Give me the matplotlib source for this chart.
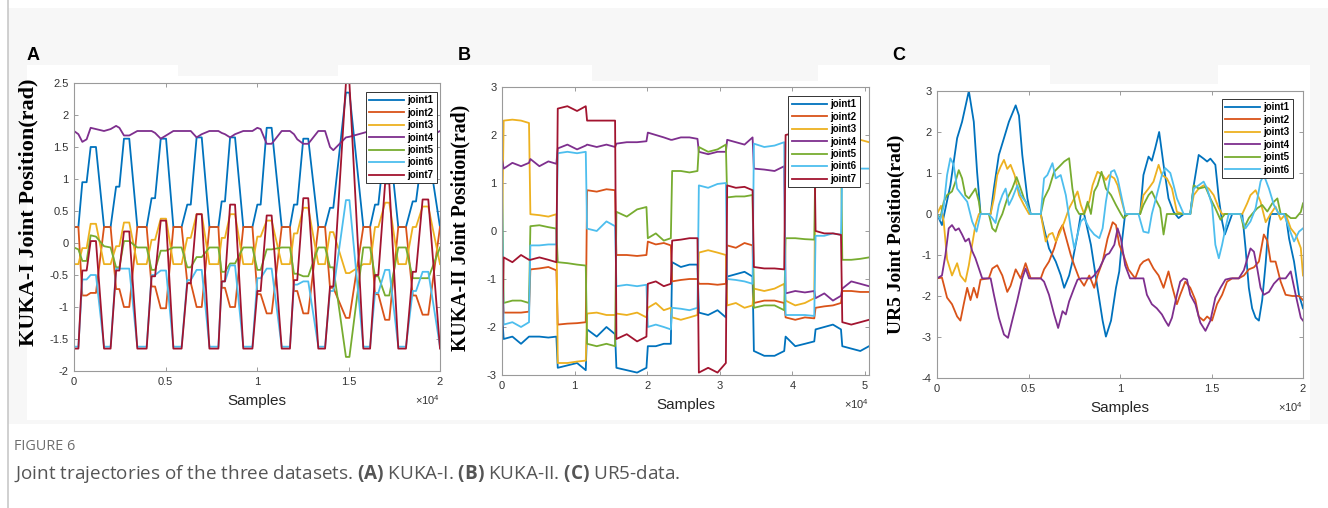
import matplotlib
matplotlib.use("Agg")
import matplotlib.pyplot as plt
from matplotlib.patches import Rectangle
from matplotlib.lines import Line2D
from matplotlib.ticker import FuncFormatter

# MATLAB default line colours, joint1..joint7
colors = ["#0072BD", "#D95319", "#EDB120", "#7E2F8E", "#77AC30", "#4DBEEE", "#A2142F"]

# ---------------- (A) KUKA-I : shared sample grid ----------------
a_samples = [0, 240, 455, 690, 910, 1200,
             1640, 2000, 2300, 2480, 2730, 3020,
             3460, 3970, 4240, 4430, 4740, 5030,
             5430, 5880, 6190, 6380, 6700, 6980,
             7400, 7890, 8070, 8250, 8530, 8800,
             9250, 9750, 10020, 10200, 10530, 10800,
             11350, 11800, 12020, 12200, 12530, 12800,
             13350, 13720, 13990, 14170, 14860, 15050,
             15810, 16180, 16450, 16630, 17000, 17230,
             17720, 18140, 18510, 18690, 19050, 19360,
             20000]
a_joint1 = [0.25, 0.25, 0.95, 0.95, 1.5, 1.5,
            0.25, 0.25, 0.88, 0.88, 1.63, 1.63,
            0.25, 0.25, 0.7, 0.7, 1.63, 1.63,
            0.25, 0.25, 0.6, 0.6, 1.65, 1.65,
            0.25, 0.25, 0.65, 0.65, 1.65, 1.65,
            0.25, 0.25, 0.6, 0.6, 1.8, 1.8,
            0.25, 0.25, 0.6, 0.6, 1.63, 1.63,
            0.25, 0.25, 0.55, 0.55, 2.35, 2.35,
            0.25, 0.25, 0.6, 0.6, 1.6, 1.6,
            0.25, 0.25, 0.65, 0.65, 1.45, 1.45,
            0.25]
a_joint2 = [0.25, 0.25, -0.82, -0.82, -0.78, -0.78,
            0.25, 0.25, -0.72, -0.72, -1.0, -1.0,
            0.25, 0.25, -0.68, -0.68, -1.02, -1.02,
            0.25, 0.25, -0.62, -0.62, -1.0, -1.0,
            0.25, 0.25, -0.7, -0.7, -1.0, -1.0,
            0.25, 0.25, -0.8, -0.8, -1.1, -1.1,
            0.25, 0.25, -0.75, -0.75, -1.1, -1.1,
            0.25, 0.25, -0.7, -0.7, -1.17, -1.17,
            0.25, 0.25, -0.8, -0.8, -1.2, -1.2,
            0.25, 0.25, -0.82, -0.82, -1.12, -1.12,
            0.25]
a_joint3 = [-0.33, -0.33, -0.08, -0.08, 0.3, 0.3,
            -0.33, -0.33, -0.05, -0.05, 0.32, 0.32,
            -0.33, -0.33, 0.05, 0.05, 0.38, 0.38,
            -0.33, -0.33, 0.08, 0.08, 0.45, 0.45,
            -0.33, -0.33, 0.08, 0.08, 0.45, 0.45,
            -0.33, -0.33, 0.1, 0.1, 0.35, 0.35,
            -0.33, -0.33, 0.15, 0.15, 0.55, 0.55,
            -0.33, -0.33, 0.17, 0.17, -0.47, -0.47,
            -0.33, -0.33, 0.25, 0.25, 0.63, 0.63,
            -0.33, -0.33, 0.25, 0.25, 0.57, 0.57,
            -0.33]
a_joint4 = [1.75, 1.7, 1.58, 1.62, 1.8, 1.78,
            1.75, 1.78, 1.83, 1.8, 1.68, 1.68,
            1.75, 1.75, 1.75, 1.72, 1.63, 1.68,
            1.75, 1.75, 1.75, 1.75, 1.65, 1.7,
            1.75, 1.75, 1.72, 1.7, 1.65, 1.7,
            1.75, 1.75, 1.8, 1.78, 1.55, 1.55,
            1.75, 1.75, 1.7, 1.62, 1.55, 1.55,
            1.75, 1.75, 1.5, 1.45, 1.65, 1.66,
            1.72, 1.75, 1.75, 1.75, 1.75, 1.75,
            1.75, 1.75, 1.75, 1.75, 1.65, 1.65,
            1.75]
a_joint5 = [-0.07, -0.1, -0.28, -0.28, 0.12, 0.1,
            -0.05, -0.07, -0.38, -0.38, 0.03, 0.03,
            -0.07, -0.07, -0.42, -0.42, -0.12, -0.12,
            -0.07, -0.07, -0.38, -0.38, -0.22, -0.22,
            -0.07, -0.07, -0.45, -0.45, -0.32, -0.32,
            -0.07, -0.07, -0.42, -0.42, -0.1, -0.1,
            -0.07, -0.07, -0.48, -0.48, -0.52, -0.52,
            -0.07, -0.07, -0.38, -0.38, -1.78, -1.78,
            -0.07, -0.07, -0.52, -0.52, -0.82, -0.82,
            -0.07, -0.07, -0.55, -0.55, -0.55, -0.55,
            -0.07]
a_joint6 = [-1.62, -1.62, -0.57, -0.57, -0.5, -0.5,
            -1.62, -1.62, -0.4, -0.4, -0.4, -0.4,
            -1.62, -1.62, -0.5, -0.5, -0.43, -0.43,
            -1.62, -1.62, -0.58, -0.58, -0.42, -0.42,
            -1.62, -1.62, -0.6, -0.6, -0.35, -0.35,
            -1.62, -1.62, -0.55, -0.55, -0.4, -0.4,
            -1.62, -1.62, -0.65, -0.65, -0.6, -0.6,
            -1.62, -1.62, -0.75, -0.75, 0.67, 0.67,
            -1.62, -1.62, -0.78, -0.78, -0.42, -0.42,
            -1.62, -1.62, -0.75, -0.75, -0.45, -0.45,
            -1.62]
a_joint7 = [-1.65, -1.65, -0.43, -0.43, 0.03, 0.03,
            -1.65, -1.65, -0.43, -0.43, 0.18, 0.18,
            -1.65, -1.65, -0.52, -0.52, 0.35, 0.35,
            -1.65, -1.65, -0.63, -0.63, 0.45, 0.45,
            -1.65, -1.65, -0.6, -0.6, 0.6, 0.6,
            -1.65, -1.65, -0.75, -0.75, 0.43, 0.43,
            -1.65, -1.65, -0.58, -0.58, 0.7, 0.7,
            -1.65, -1.65, -0.68, -0.68, 2.5, 2.5,
            -1.65, -1.65, -0.5, -0.5, 0.93, 0.93,
            -1.65, -1.65, -0.45, -0.45, 0.68, 0.68,
            -1.65]

# ---------------- (B) KUKA-II : shared sample grid ----------------
b_samples = [0,
             230, 1430, 2620, 3720,
             3910, 5150, 6390, 7490,
             7680, 9010, 10340, 11540,
             11720, 13050, 14390, 15580,
             15760, 17190, 18610, 19900,
             20090, 21190, 22290, 23260,
             23440, 24640, 25830, 26930,
             27120, 28400, 29690, 30840,
             31020, 32220, 33410, 34520,
             34700, 36130, 37550, 38880,
             39070, 40400, 41730, 43020,
             43200, 44400, 45590, 46700,
             46880, 48120, 49360, 50560]
b_joint1 = [-1.7,
            -2.25, -2.2, -2.35, -2.2,
            -2.2, -2.2, -2.22, -2.2,
            -2.85, -2.8, -2.75, -2.9,
            -2.05, -2.2, -2.0, -2.15,
            -2.85, -2.9, -2.95, -2.85,
            -2.4, -2.4, -2.35, -2.35,
            -0.65, -0.75, -0.7, -0.7,
            -1.7, -1.75, -1.65, -1.8,
            -0.95, -0.9, -0.85, -0.95,
            -2.5, -2.6, -2.6, -2.5,
            -2.2, -2.4, -2.35, -2.3,
            -2.05, -2.0, -1.95, -2.05,
            -2.4, -2.45, -2.5, -2.4]
b_joint2 = [-1.05,
            -1.7, -1.7, -1.7, -1.68,
            -0.8, -0.78, -0.75, -0.82,
            -1.95, -1.93, -1.92, -1.9,
            0.85, 0.82, 0.87, 0.85,
            -0.5, -0.5, -0.52, -0.5,
            -0.22, -0.28, -0.25, -0.3,
            -1.05, -1.02, -1.0, -1.0,
            -1.1, -1.1, -1.12, -1.1,
            -0.3, -0.35, -0.25, -0.3,
            -1.5, -1.45, -1.45, -1.5,
            -1.8, -1.85, -1.8, -1.82,
            -1.6, -1.57, -1.55, -1.5,
            -1.25, -1.25, -1.27, -1.27]
b_joint3 = [-0.2,
            2.3, 2.32, 2.3, 2.25,
            0.35, 0.33, 0.3, 0.35,
            -2.75, -2.75, -2.72, -2.7,
            -1.72, -1.7, -1.75, -1.75,
            -1.72, -1.75, -1.7, -1.8,
            -1.6, -1.5, -1.65, -1.6,
            -1.8, -1.85, -1.8, -1.75,
            -0.45, -0.4, -0.45, -0.5,
            -1.55, -1.5, -1.6, -1.55,
            -1.2, -1.25, -1.2, -1.1,
            -1.45, -1.55, -1.5, -1.4,
            1.95, 1.95, 1.95, 1.95,
            1.95, 1.95, 1.9, 1.85]
b_joint4 = [1.5,
            1.3, 1.42, 1.35, 1.42,
            1.5, 1.35, 1.45, 1.4,
            1.72, 1.8, 1.7, 1.78,
            1.8, 1.75, 1.8, 1.75,
            1.82, 1.85, 1.85, 1.87,
            2.05, 2.0, 1.95, 1.9,
            1.9, 1.95, 1.95, 1.92,
            1.65, 1.6, 1.65, 1.65,
            1.9, 1.85, 1.8, 1.95,
            1.3, 1.28, 1.25, 1.35,
            -1.3, -1.25, -1.28, -1.25,
            -1.4, -1.3, -1.45, -1.35,
            -1.2, -1.05, -1.1, -1.15]
b_joint5 = [1.2,
            -1.5, -1.45, -1.45, -1.5,
            0.1, 0.12, 0.08, 0.05,
            -0.65, -0.67, -0.7, -0.72,
            -2.35, -2.4, -2.35, -2.4,
            0.4, 0.3, 0.45, 0.5,
            -0.15, -0.05, -0.2, -0.15,
            1.25, 1.25, 1.22, 1.25,
            1.75, 1.65, 1.7, 1.8,
            0.7, 0.72, 0.72, 0.75,
            -1.6, -1.55, -1.55, -1.65,
            -0.15, -0.15, -0.17, -0.18,
            1.8, 1.8, 1.8, 1.8,
            -0.6, -0.6, -0.58, -0.55]
b_joint6 = [0.7,
            -1.95, -1.9, -2.0, -1.9,
            -0.3, -0.3, -0.28, -0.28,
            1.62, 1.65, 1.62, 1.65,
            0.05, 0.0, 0.2, 0.1,
            -1.15, -1.12, -1.15, -1.12,
            -2.0, -1.95, -2.0, -2.05,
            -1.6, -1.62, -1.65, -1.6,
            0.95, 0.9, 0.98, 1.0,
            -1.0, -1.02, -1.05, -1.1,
            1.82, 1.75, 1.78, 1.85,
            -1.75, -1.75, -1.75, -1.77,
            -0.1, -0.1, -0.05, -0.08,
            1.3, 1.3, 1.3, 1.3]
b_joint7 = [-2.4,
            -0.55, -0.65, -0.5, -0.6,
            -0.6, -0.55, -0.6, -0.65,
            2.55, 2.6, 2.5, 2.6,
            2.3, 2.3, 2.3, 2.3,
            -2.25, -2.15, -2.3, -2.2,
            -1.1, -1.05, -1.15, -1.1,
            -0.2, -0.18, -0.15, -0.15,
            -2.95, -2.85, -2.95, -2.75,
            0.95, 0.9, 0.92, 0.85,
            -0.75, -0.78, -0.78, -0.8,
            2.0, 2.05, 2.05, 2.05,
            0.0, -0.05, -0.05, -0.08,
            -1.9, -1.95, -1.9, -1.85]

# ---------------- (C) UR5 : (sample, rad) pairs per joint ----------------
c_joint1 = [(0, 0.0), (270, -0.27), (730, 0.7), (1100, 1.85), (1370, 2.25), (1740, 3.0),
            (2010, 2.25), (2190, 1.03), (2380, 0.0), (2930, 0.0), (3110, 0.63), (3380, 1.44),
            (3660, 1.85), (3930, 2.25), (4300, 2.65), (4480, 2.4), (4660, 1.44), (4940, 0.38),
            (5120, 0.0), (5670, 0.0), (5850, -0.35), (6120, -0.84), (6490, -1.16), (6760, -1.49),
            (6950, -1.8), (7220, -1.5), (7400, -1.16), (7680, -0.5), (7860, 0.0), (8040, 0.0),
            (8410, -0.75), (8770, -1.8), (9050, -2.6), (9230, -2.99), (9510, -2.6), (9780, -1.8),
            (9960, -1.4), (10100, -0.7), (10280, 0.0), (11100, 0.0), (11280, 0.95), (11560, 1.4),
            (11740, 1.3), (11920, 1.6), (12140, 2.0), (12380, 1.2), (12650, 0.38), (12930, 0.05),
            (13200, -0.1), (13480, 0.0), (13840, 0.0), (14030, 0.7), (14300, 1.44), (14570, 1.35),
            (14760, 1.28), (14940, 1.35), (15210, 1.2), (15400, 0.38), (15580, -0.18), (15730, -0.5),
            (16130, 0.0), (16680, 0.0), (16860, -0.83), (17040, -1.8), (17220, -2.3), (17410, -2.53),
            (17590, -2.6), (17770, -2.1), (17960, -1.2), (18100, -0.35), (18230, 0.0), (19050, 0.0),
            (19240, -0.6), (19510, -1.16), (19780, -1.97), (20000, -2.3)]
c_joint2 = [(0, -1.57), (270, -1.55), (550, -2.04), (820, -2.2), (1100, -2.5), (1280, -2.6),
            (1460, -2.2), (1650, -1.8), (1830, -2.1), (2010, -1.8), (2190, -2.04), (2380, -1.6),
            (2830, -1.57), (3020, -1.33), (3290, -1.25), (3570, -1.5), (3840, -1.9), (4020, -1.75),
            (4300, -1.35), (4570, -1.57), (4840, -1.2), (5120, -1.57), (5670, -1.57), (5850, -1.35),
            (6120, -1.16), (6400, -0.84), (6670, -0.43), (6860, -0.27), (7040, -0.56), (7310, -1.0),
            (7500, -1.25), (7770, -1.57), (8040, -1.75), (8320, -1.5), (8590, -1.8), (8770, -1.5),
            (9050, -1.16), (9320, -0.6), (9600, -0.2), (9780, -0.27), (9960, -0.75), (10190, -1.0),
            (10460, -1.35), (10830, -1.57), (11100, -1.25), (11280, -1.16), (11560, -1.1),
            (11830, -1.33), (12110, -1.5), (12380, -1.8), (12650, -1.4), (12840, -1.75),
            (13110, -2.2), (13290, -1.97), (13570, -1.65), (13840, -1.8), (14120, -2.1),
            (14300, -2.5), (14570, -2.6), (14760, -2.5), (15030, -2.6), (15300, -2.2),
            (15580, -1.97), (15850, -1.65), (16130, -1.57), (16490, -1.57), (16770, -1.5),
            (17040, -1.35), (17320, -1.3), (17590, -1.16), (17860, -0.5), (18050, -0.65),
            (18230, -1.16), (18500, -1.16), (18780, -1.65), (19050, -1.97), (19420, -2.0),
            (19780, -2.0), (20000, -2.1)]
c_joint3 = [(0, 0.0), (220, 0.2), (370, -0.2), (550, -1.1), (820, -1.5), (1100, -1.2),
            (1280, -1.5), (1550, -1.65), (1740, -1.25), (1920, -0.75), (2100, -0.27), (2290, 0.0),
            (2930, 0.0), (3110, 0.38), (3290, 0.95), (3470, 1.15), (3660, 1.32), (3840, 1.1),
            (4020, 1.2), (4240, 0.95), (4480, 0.46), (4750, 0.22), (5030, 0.0), (5670, 0.0),
            (5940, -0.67), (6120, -0.5), (6310, -0.46), (6490, -0.67), (6670, -0.5), (6950, -0.2),
            (7220, 0.14), (7500, 0.38), (7680, 0.55), (7860, 0.22), (8040, 0.0), (8320, 0.3),
            (8500, 0.7), (8770, 1.03), (9050, 0.95), (9230, 0.83), (9410, 0.95), (9690, 0.87),
            (9870, 0.7), (10100, 0.3), (10280, 0.0), (11100, 0.0), (11280, 0.46), (11560, 0.62),
            (11830, 0.79), (12110, 1.2), (12290, 0.95), (12560, 0.87), (12840, 0.62),
            (13110, 0.05), (13480, 0.0), (13840, 0.0), (14030, 0.46), (14300, 0.62),
            (14570, 0.7), (14850, 0.62), (15120, 0.46), (15400, 0.14), (15580, 0.0),
            (16680, 0.0), (16950, 0.26), (17130, 0.46), (17410, 0.58), (17680, 0.3),
            (17960, -0.2), (18230, 0.0), (18500, 0.18), (18780, -0.14), (19050, 0.0),
            (19330, -0.35), (19600, -0.5), (19880, -0.83), (20000, -1.5)]
c_joint4 = [(0, -1.57), (270, -1.5), (460, -1.0), (640, -0.35), (820, -0.27), (1010, -0.4),
            (1190, -0.35), (1370, -0.5), (1550, -0.67), (1740, -0.6), (1920, -0.9), (2100, -1.08),
            (2290, -1.33), (2470, -1.57), (2930, -1.57), (3110, -1.97), (3380, -2.53),
            (3660, -2.94), (3880, -3.02), (4110, -2.6), (4390, -2.1), (4660, -1.57),
            (4840, -1.33), (5030, -1.57), (5670, -1.57), (5850, -1.65), (6120, -1.97),
            (6400, -2.45), (6620, -2.78), (6860, -2.37), (7040, -2.45), (7220, -2.13),
            (7500, -1.8), (7680, -1.6), (7900, -1.57), (8410, -1.57), (8590, -1.5),
            (8870, -1.33), (9050, -1.16), (9230, -1.0), (9410, -0.96), (9690, -0.75),
            (9870, -0.35), (10050, -0.6), (10280, -1.25), (10550, -1.57), (11280, -1.57),
            (11470, -1.97), (11740, -2.2), (12010, -2.3), (12290, -2.45), (12470, -2.6),
            (12650, -2.73), (12840, -2.53), (13110, -1.97), (13290, -1.65), (13480, -1.57),
            (13660, -1.6), (13840, -1.97), (14120, -2.2), (14390, -2.65), (14670, -2.85),
            (14940, -2.6), (15210, -2.04), (15490, -1.8), (15760, -1.6), (16040, -1.57),
            (16490, -1.57), (16770, -1.37), (16950, -1.1), (17130, -0.84), (17320, -0.92),
            (17500, -1.33), (17680, -1.8), (17860, -1.97), (18140, -1.9), (18410, -1.7),
            (18690, -1.57), (19050, -1.57), (19330, -1.4), (19600, -1.97), (19880, -2.53),
            (20000, -2.6)]
c_joint5 = [(0, 0.0), (180, -0.1), (370, 0.3), (550, 0.46), (820, 0.55), (1010, 0.79),
            (1190, 1.07), (1370, 0.87), (1550, 0.46), (1740, 0.38), (1920, 0.5), (2100, 0.62),
            (2290, 0.3), (2380, 0.0), (2830, 0.0), (3020, -0.35), (3200, -0.43), (3380, -0.18),
            (3570, 0.0), (3840, 0.38), (4110, 0.62), (4350, 0.9), (4570, 0.62), (4750, 0.38),
            (4940, 0.22), (5120, 0.0), (5670, 0.0), (5850, 0.38), (6120, 0.62), (6400, 1.03),
            (6670, 1.15), (6950, 1.28), (7220, 1.36), (7400, 0.62), (7590, 0.14), (7770, 0.0),
            (8040, 0.0), (8230, 0.3), (8410, 0.0), (8590, 0.55), (8770, 0.7), (8990, 1.03),
            (9230, 0.62), (9510, 0.46), (9780, 0.22), (10050, 0.0), (10190, -0.1), (10460, 0.0),
            (11100, 0.0), (11280, 0.22), (11560, 0.46), (11740, 0.55), (11920, 0.38),
            (12200, 0.14), (12380, -0.5), (12560, 0.0), (12840, 0.0), (13840, 0.0),
            (14030, 0.7), (14300, 0.62), (14670, 0.66), (14940, 0.38), (15210, 0.14),
            (15490, -0.14), (15730, 0.0), (16580, 0.0), (16770, -0.35), (17040, -0.1),
            (17220, 0.0), (17500, 0.14), (17770, 0.22), (18050, 0.06), (18320, 0.26),
            (18600, 0.38), (18780, 0.0), (19050, 0.0), (19330, -0.1), (19600, -0.1),
            (19880, 0.05), (20000, 0.26)]
c_joint6 = [(0, 0.0), (180, -0.14), (370, 0.2), (550, 0.95), (730, 1.36), (910, 1.2),
            (1100, 0.62), (1370, 0.46), (1650, 0.3), (1920, -0.18), (2160, -0.43), (2380, 0.0),
            (2830, 0.0), (3020, -0.1), (3200, -0.22), (3380, 0.22), (3570, 0.46), (3750, 0.62),
            (3930, 0.22), (4110, 0.38), (4390, 0.7), (4570, 0.46), (4840, 0.3), (5120, 0.0),
            (5670, 0.0), (5850, 0.87), (6030, 0.95), (6310, 1.24), (6490, 0.87), (6760, 0.95),
            (7040, 0.46), (7310, -0.35), (7500, -0.84), (7680, -0.5), (7860, -0.18),
            (8040, -0.1), (8320, -0.35), (8590, -0.5), (8870, -0.59), (9050, -0.35),
            (9230, 0.3), (9510, 1.03), (9690, 1.07), (9870, 0.87), (10100, 0.38), (10280, 0.0),
            (11010, 0.0), (11280, -0.43), (11560, -0.46), (11740, 0.0), (12010, 0.46),
            (12290, 0.95), (12470, 1.12), (12750, 1.0), (12930, 0.7), (13110, 0.38),
            (13480, 0.0), (13840, 0.0), (14030, 0.62), (14300, 0.7), (14570, 0.79),
            (14760, 0.62), (15030, 0.22), (15210, -0.75), (15400, -1.08), (15580, -0.75),
            (15760, -0.35), (15940, 0.0), (16580, 0.0), (16860, -0.35), (17130, -0.18),
            (17410, 0.14), (17680, 0.79), (17860, 0.95), (18140, 0.62), (18410, 0.22),
            (18690, 0.0), (18960, 0.0), (19240, -0.35), (19510, -0.67), (19780, -0.43),
            (20000, -0.35)]

joint_names = ["joint1", "joint2", "joint3", "joint4", "joint5", "joint6", "joint7"]

plt.rcParams["font.family"] = ["Liberation Sans", "DejaVu Sans"]
plt.rcParams["mathtext.default"] = "regular"
plt.rcParams["mathtext.fontset"] = "custom"
plt.rcParams["mathtext.bf"] = "Open Sans:bold"

W, H = 1328, 508
fig = plt.figure(figsize=(W / 100, H / 100), dpi=100)
fig.patch.set_facecolor("white")


def px_rect(x0, y0, x1, y1, color):
    """Rectangle in figure pixel coordinates (y from top)."""
    fig.add_artist(Rectangle((x0 / W, 1 - y1 / H), (x1 - x0) / W, (y1 - y0) / H,
                             transform=fig.transFigure, facecolor=color,
                             edgecolor="none", zorder=-5))


# page-like background behind the three panels
px_rect(8, 8, W, 424, "#f7f7f7")
px_rect(27, 65, 1310, 420, "white")
px_rect(178, 65, 338, 76, "#f7f7f7")
px_rect(592, 65, 818, 81, "#f7f7f7")
px_rect(1050, 65, 1218, 84, "#f7f7f7")
fig.add_artist(Line2D([7.5 / W, 7.5 / W], [0, 1], transform=fig.transFigure,
                      color="#c8c8c8", lw=1.2, zorder=-4))


def style_axes(ax, xmax, ylim, yticks, xticks, ylabel, ylsize, ylx, yly, leg_anchor):
    ax.set_xlim(0, xmax)
    ax.set_ylim(*ylim)
    ax.set_xticks(xticks)
    ax.set_yticks(yticks)
    ax.xaxis.set_major_formatter(FuncFormatter(lambda v, p: f"{v / 1e4:g}"))
    ax.yaxis.set_major_formatter(FuncFormatter(lambda v, p: f"{v:g}"))
    ax.tick_params(direction="in", top=True, right=True, length=3, width=0.6,
                   color="#8c8c8c", labelsize=8, labelcolor="#333333", pad=4)
    for s in ax.spines.values():
        s.set_color("#9a9a9a")
        s.set_linewidth(0.8)
    ax.set_xlabel("Samples", fontsize=11, color="#262626", va="top")
    ax.xaxis.set_label_coords(0.5, -0.08)
    ax.set_ylabel(ylabel, family="Liberation Serif", fontweight="bold",
                  fontsize=ylsize, color="black")
    ax.yaxis.set_label_coords(ylx, yly)
    ax.text(1.0, -0.078, "×10$^{4}$", transform=ax.transAxes, ha="right", va="top",
            fontsize=8, color="#333333")
    leg = ax.legend(loc="upper right", bbox_to_anchor=leg_anchor,
                    prop={"family": "Liberation Sans", "weight": "bold", "size": 7},
                    frameon=True, fancybox=False, framealpha=1, borderaxespad=0,
                    handlelength=3.6, handletextpad=0.35, labelspacing=0.25,
                    borderpad=0.35)
    leg.get_frame().set_edgecolor("#333333")
    leg.get_frame().set_linewidth(0.7)


lw = 1.3

# (A)
ax_a = fig.add_axes([74 / W, 1 - 371 / H, 366 / W, 288 / H])
for name, vals, c in zip(joint_names,
                         [a_joint1, a_joint2, a_joint3, a_joint4, a_joint5, a_joint6, a_joint7],
                         colors):
    ax_a.plot(a_samples, vals, color=c, lw=lw, label=name)
style_axes(ax_a, 20000, (-2, 2.5), [-2, -1.5, -1, -0.5, 0, 0.5, 1, 1.5, 2, 2.5],
           [0, 5000, 10000, 15000, 20000], "KUKA-I Joint Position(rad)", 16,
           -0.098, 0.55, (0.992, 0.969))

# (B)
ax_b = fig.add_axes([502 / W, 1 - 375 / H, 367 / W, 288 / H])
for name, vals, c in zip(joint_names,
                         [b_joint1, b_joint2, b_joint3, b_joint4, b_joint5, b_joint6, b_joint7],
                         colors):
    ax_b.plot(b_samples, vals, color=c, lw=lw, label=name)
style_axes(ax_b, 50560, (-3, 3), [-3, -2, -1, 0, 1, 2, 3],
           [0, 10000, 20000, 30000, 40000, 50000], "KUKA-II Joint Position(rad)", 14.3,
           -0.087, 0.51, (0.975, 0.969))

# (C)
ax_c = fig.add_axes([937 / W, 1 - 378 / H, 366 / W, 287 / H])
for name, pts, c in zip(joint_names[:6],
                        [c_joint1, c_joint2, c_joint3, c_joint4, c_joint5, c_joint6],
                        colors):
    xs = [p[0] for p in pts]
    ys = [p[1] for p in pts]
    ax_c.plot(xs, ys, color=c, lw=lw, label=name)
style_axes(ax_c, 20000, (-4, 3), [-4, -3, -2, -1, 0, 1, 2, 3],
           [0, 5000, 10000, 15000, 20000], "UR5 Joint Position(rad)", 14,
           -0.087, 0.5, (0.973, 0.972))

# panel letters
for x, letter in [(27, "A"), (458, "B"), (892, "C")]:
    fig.text(x / W, 1 - 55 / H, letter, fontsize=13, fontweight="bold",
             va="center", ha="left", color="black")

# caption
fig.text(14 / W, 1 - 447 / H, "FIGURE 6", family="Open Sans", fontsize=10.4,
         color="#6e6e6e", va="center", ha="left")
fig.text(14 / W, 1 - 474 / H,
         r"Joint trajectories of the three datasets. $\mathbf{(A)}$ KUKA-I. "
         r"$\mathbf{(B)}$ KUKA-II. $\mathbf{(C)}$ UR5-data.",
         family="Open Sans", fontsize=13.6, color="#555555", va="center", ha="left")

fig.savefig("out.png", dpi=100)
